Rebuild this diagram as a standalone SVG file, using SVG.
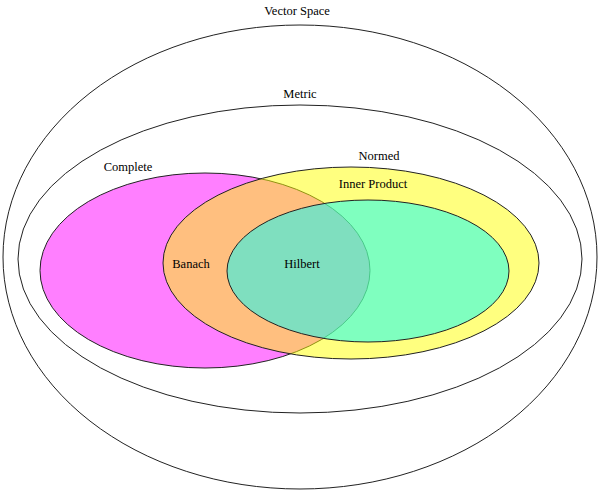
<svg xmlns="http://www.w3.org/2000/svg" width="600" height="492" viewBox="0 0 600 492">
<style>
.set{stroke:#222;stroke-width:1}
.lbl{font-family:"Liberation Serif","Times New Roman",serif;font-size:12.5px;fill:#000;text-anchor:middle}
</style>
<rect width="600" height="492" fill="#fff"/>
<g id="vector-space">
<ellipse class="set" cx="300" cy="257" rx="297" ry="232" fill="none"/>
<text class="lbl" x="297" y="15">Vector Space</text>
</g>
<g id="metric">
<ellipse class="set" cx="300" cy="259" rx="282" ry="154" fill="none"/>
<text class="lbl" x="300" y="98">Metric</text>
</g>
<g id="complete">
<ellipse class="set" cx="205" cy="270.5" rx="165" ry="97.5" fill="#ff00ff" fill-opacity="0.5"/>
<text class="lbl" x="128" y="171">Complete</text>
</g>
<g id="normed">
<ellipse class="set" cx="351" cy="263" rx="188" ry="96" fill="#ffff00" fill-opacity="0.5"/>
<text class="lbl" x="379" y="160">Normed</text>
</g>
<g id="inner-product">
<ellipse class="set" cx="368" cy="271" rx="141" ry="71" fill="#00ffff" fill-opacity="0.5"/>
<text class="lbl" x="373" y="188">Inner Product</text>
</g>
<g id="banach">
<text class="lbl" x="191" y="268">Banach</text>
</g>
<g id="hilbert">
<text class="lbl" x="302" y="268">Hilbert</text>
</g>
<g id="connectors"></g>
</svg>
